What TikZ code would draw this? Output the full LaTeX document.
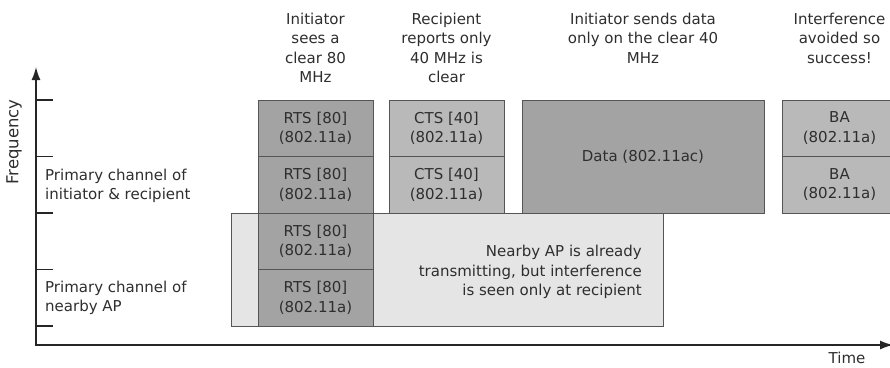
\documentclass[tikz,border=0pt]{standalone}
\usepackage{fontspec}
\setmainfont{DejaVu Sans}
\usetikzlibrary{arrows.meta,positioning}

\definecolor{inkgray}{HTML}{2E2E2E}
\definecolor{edgegray}{HTML}{555555}
\definecolor{rtsgray}{HTML}{A3A3A3}
\definecolor{ctsgray}{HTML}{B9B9B9}
\definecolor{apgray}{HTML}{E5E5E5}
\newcommand{\lblfont}{\fontsize{15}{19.5}\selectfont}

\begin{document}
\begin{tikzpicture}[
  x=1pt, y=-1pt,
  every node/.style={font=\lblfont, text=inkgray},
  cell/.style={draw=edgegray, line width=1pt, minimum width=115pt,
    minimum height=56.5pt, inner sep=0pt, outer sep=0pt, align=center},
  rtscell/.style={cell, fill=rtsgray},
  ctscell/.style={cell, fill=ctsgray},
  note/.style={anchor=north, inner sep=0pt, align=center},
  axis/.style={line width=1.4pt, draw=black!85,
    {Latex[length=13pt,width=9pt]}-{Latex[length=13pt,width=9pt]}},
  tick/.style={line width=1.4pt, draw=black!85}
]
  \useasboundingbox (0,0) rectangle (890,367);

  % axes
  \coordinate (origin) at (36,345);
  \coordinate (ftop) at (36,67);
  \coordinate (tend) at (893,345);
  \draw[axis] (ftop) -- (origin) -- (tend);
  \foreach \t in {100,156.5,213,269.5,326}
    \draw[tick] (36,\t) -- (53,\t);
  \node[rotate=90, font=\fontsize{16.5}{20}\selectfont] (freq) at (14,142) {Frequency};
  \node (time) at (847,358) {Time};

  \node[anchor=west, align=left, inner sep=0pt] (primself) at (45,186)
    {Primary channel of\\initiator \& recipient};
  \node[anchor=west, align=left, inner sep=0pt] (primap) at (45,298)
    {Primary channel of\\nearby AP};

  % nearby AP busy
  \node[draw=edgegray, fill=apgray, line width=1pt, minimum width=432pt,
    minimum height=113pt, inner sep=0pt, outer sep=0pt,
    anchor=north west] (ap) at (231,213) {};
  \node[anchor=east, align=right, inner sep=0pt] (aptext) at (642,272)
    {Nearby AP is already\\transmitting, but interference\\is seen only at recipient};

  % frames
  \node[rtscell, anchor=north west] (rts1) at (258,100) {RTS [80]\\(802.11a)};
  \node[rtscell, below=0pt of rts1] (rts2) {RTS [80]\\(802.11a)};
  \node[rtscell, below=0pt of rts2] (rts3) {RTS [80]\\(802.11a)};
  \node[rtscell, below=0pt of rts3] (rts4) {RTS [80]\\(802.11a)};
  \node[ctscell, right=16pt of rts1] (cts1) {CTS [40]\\(802.11a)};
  \node[ctscell, below=0pt of cts1] (cts2) {CTS [40]\\(802.11a)};
  \node[rtscell, minimum width=242pt, minimum height=113pt,
    right=18pt of cts1.north east, anchor=north west] (data) {Data (802.11ac)};
  \node[ctscell, right=18pt of data.north east, anchor=north west] (ba1) {BA\\(802.11a)};
  \node[ctscell, below=0pt of ba1] (ba2) {BA\\(802.11a)};

  % step notes
  \coordinate (top) at (0,12.5);
  \node[note] (note1) at (rts1.north |- top) {Initiator\\sees a\\clear 80\\MHz};
  \node[note] (note2) at (cts1.north |- top) {Recipient\\reports only\\40 MHz is\\clear};
  \node[note] (note3) at (data.north |- top) {Initiator sends data\\only on the clear 40\\MHz};
  \node[note] (note4) at (ba1.north |- top) {Interference\\avoided so\\success!};
\end{tikzpicture}
\end{document}
